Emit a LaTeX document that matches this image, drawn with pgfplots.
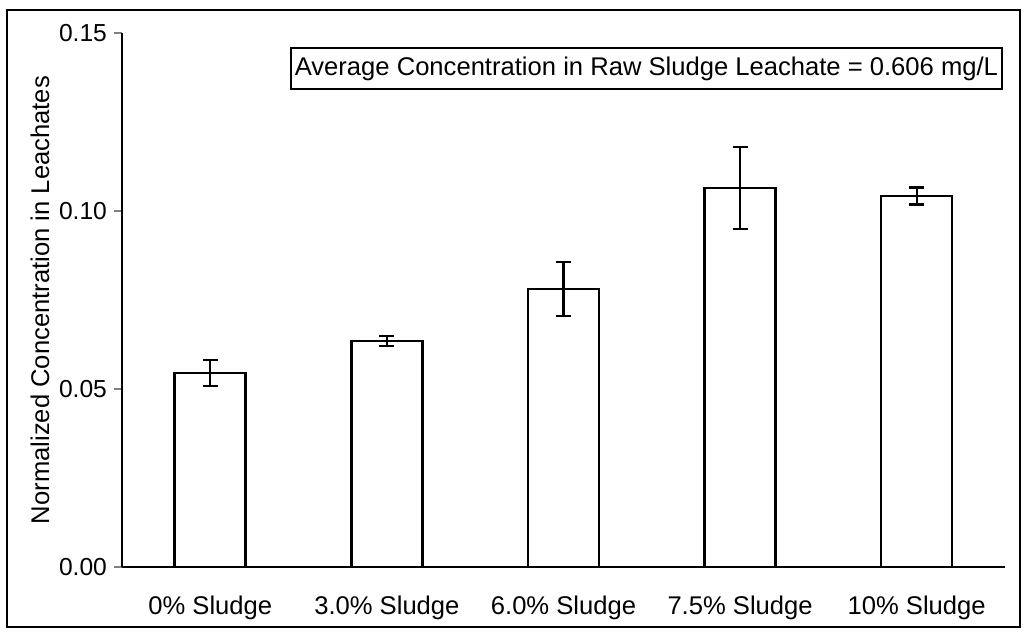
\documentclass[border=0pt]{standalone}
\usepackage{fontspec}
\setmainfont{Liberation Sans}
\usepackage{pgfplots}
\pgfplotsset{compat=1.18}
\begin{document}
\begin{tikzpicture}
\path[use as bounding box] (-61pt,-33.5pt) rectangle (451pt,283.5pt);
\draw[line width=0.9pt] (-57.5pt,-30pt) rectangle (449pt,278.5pt);
\begin{axis}[
  at={(0pt,0pt)}, anchor=south west,
  scale only axis, width=441.5pt, height=267pt,
  xmin=-0.5, xmax=4.5, ymin=0, ymax=0.15,
  axis x line*=bottom, axis y line*=left,
  axis line style={-, line width=1.1pt},
  xtick=data,
  xticklabels={0\% Sludge,3.0\% Sludge,6.0\% Sludge,7.5\% Sludge,10\% Sludge},
  x tick style={draw=none},
  xticklabel style={font=\fontsize{12.8}{14}\selectfont, yshift=-7pt},
  ytick={0,0.05,0.10,0.15},
  yticklabels={0.00,0.05,0.10,0.15},
  ytick style={line width=0.9pt},
  tick align=outside, major tick length=4pt,
  yticklabel style={font=\fontsize{12.3}{14}\selectfont},
  /pgf/number format/assume math mode=true,
  ybar, bar width=35.5pt,
  clip=false,
]
\addplot[draw=black, fill=white, line width=1.3pt,
  error bars/.cd, y dir=both, y explicit,
  error bar style={line width=1.1pt},
  error mark options={rotate=90, mark size=3.75pt, line width=1.1pt}]
  coordinates {
  (0,0.0545) +- (0,0.0037)
  (1,0.0635) +- (0,0.0014)
  (2,0.0781) +- (0,0.0076)
  (3,0.1065) +- (0,0.0115)
  (4,0.1042) +- (0,0.0024)
};
\end{axis}
\node[draw, line width=0.9pt, anchor=north east, inner sep=2pt, font=\fontsize{12.8}{14}\selectfont, minimum height=20.5pt] at (440.5pt,260pt) {Average Concentration in Raw Sludge Leachate = 0.606 mg/L};
\node[rotate=90, font=\fontsize{12.8}{14}\selectfont] at (-41pt,133.5pt) {Normalized Concentration in Leachates};
\end{tikzpicture}
\end{document}
